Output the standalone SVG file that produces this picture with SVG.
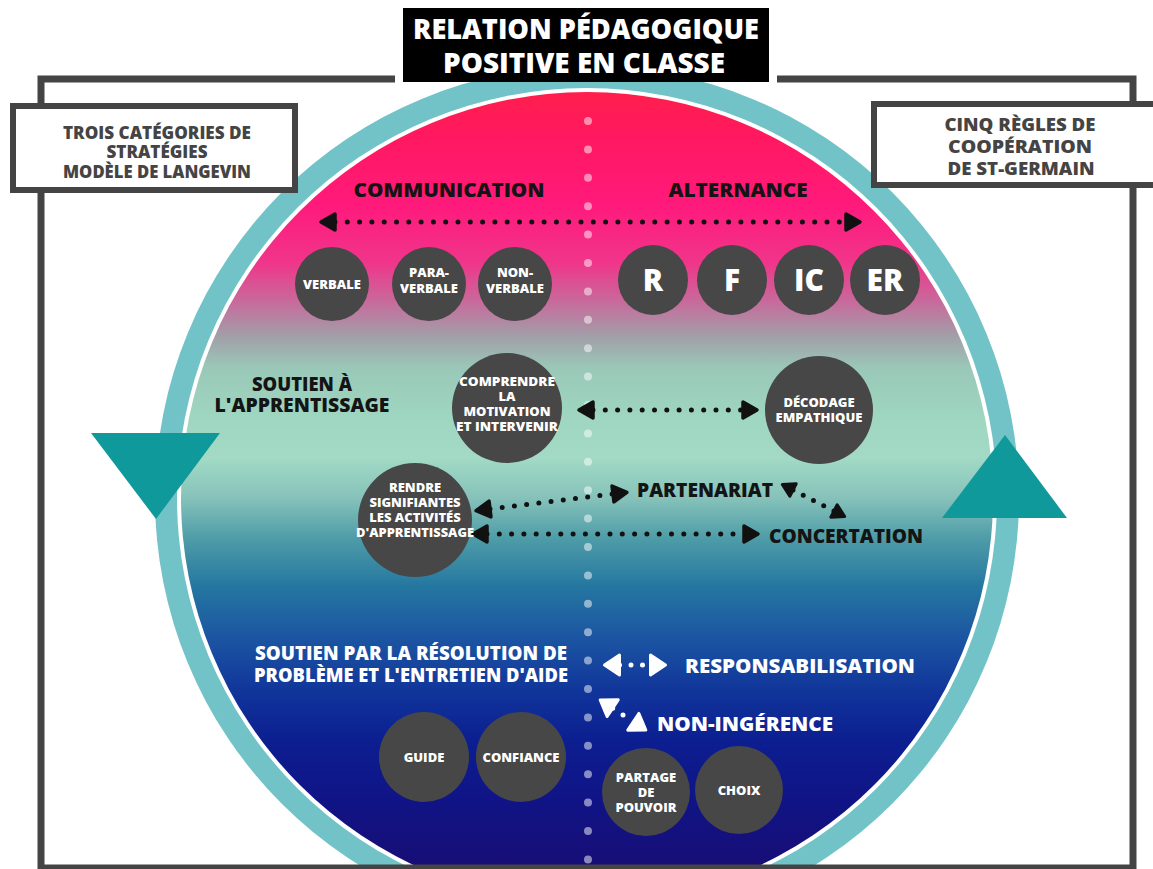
<svg xmlns="http://www.w3.org/2000/svg" width="1153" height="869" viewBox="0 0 1153 869">
  <defs>
    <linearGradient id="disc" gradientUnits="userSpaceOnUse" x1="0" y1="92" x2="0" y2="904">
      <stop offset="0" stop-color="#ff1e4c"/>
      <stop offset="0.06" stop-color="#ff1862"/>
      <stop offset="0.14" stop-color="#ff1a7c"/>
      <stop offset="0.21" stop-color="#f0358a"/>
      <stop offset="0.26" stop-color="#c66c9c"/>
      <stop offset="0.30" stop-color="#a29ea8"/>
      <stop offset="0.34" stop-color="#9ac8b8"/>
      <stop offset="0.40" stop-color="#9ed6c0"/>
      <stop offset="0.45" stop-color="#a2dac6"/>
      <stop offset="0.50" stop-color="#86c2ba"/>
      <stop offset="0.55" stop-color="#4e9ca8"/>
      <stop offset="0.61" stop-color="#2476a0"/>
      <stop offset="0.67" stop-color="#1c56a2"/>
      <stop offset="0.74" stop-color="#10349a"/>
      <stop offset="0.80" stop-color="#0c1e90"/>
      <stop offset="0.87" stop-color="#101486"/>
      <stop offset="1" stop-color="#1c0a6e"/>
    </linearGradient>
    <marker id="ah" markerUnits="userSpaceOnUse" orient="auto-start-reverse" overflow="visible" markerWidth="1" markerHeight="1" refX="0" refY="0">
      <path d="M0,-8 L14,0 L0,8 Z" fill="#111" stroke="#111" stroke-width="3.5" stroke-linejoin="round"/>
    </marker>
    <marker id="ahs" markerUnits="userSpaceOnUse" orient="auto-start-reverse" overflow="visible" markerWidth="1" markerHeight="1" refX="0" refY="0">
      <path d="M0,-7 L12,0 L0,7 Z" fill="#111" stroke="#111" stroke-width="3" stroke-linejoin="round"/>
    </marker>
    <marker id="aw" markerUnits="userSpaceOnUse" orient="auto-start-reverse" overflow="visible" markerWidth="1" markerHeight="1" refX="0" refY="0">
      <path d="M0,-10 L15,0 L0,10 Z" fill="#fff" stroke="#fff" stroke-width="3" stroke-linejoin="round"/>
    </marker>
  </defs>
  <style>
    text { font-family: "Open Sans", "Liberation Sans", sans-serif; font-weight: 800; }
    .node circle { fill: #474747; }
    .nt { fill: #fff; font-size: 13px; text-anchor: middle; }
    .big { font-size: 30px; }
    .lbl { fill: #141414; font-size: 20px; }
    .wl { fill: #fff; font-size: 20px; }
    .box rect { fill: #fff; stroke: #444; stroke-width: 6; }
    .bt { fill: #444; font-size: 18px; text-anchor: middle; }
    .dk { fill: none; stroke: #111; stroke-width: 5; stroke-linecap: round; }
    .wt { fill: none; stroke: #fff; stroke-width: 5; stroke-linecap: round; }
  </style>

  <rect width="1153" height="869" fill="#fff"/>

  <!-- disc: teal ring, white gap, gradient core -->
  <g id="disc-shape">
    <circle cx="587" cy="498" r="432" fill="#72c3c8"/>
    <circle cx="587" cy="498" r="410" fill="#fff"/>
    <circle cx="587" cy="498" r="406" fill="url(#disc)"/>
    <line x1="588" y1="121" x2="588" y2="862" stroke="#fff" stroke-opacity="0.5" stroke-width="8" stroke-linecap="round" stroke-dasharray="0 28.4"/>
  </g>

  <!-- outer frame -->
  <path id="frame" d="M395,79 H41 V868 H1133 V79 H777" fill="none" stroke="#444" stroke-width="7"/>

  <!-- rotation triangles on the ring -->
  <polygon id="tri-left" points="91,433 220,433 156,519" fill="#0f999b"/>
  <polygon id="tri-right" points="942,518 1067,518 1005,435" fill="#0f999b"/>

  <!-- side captions -->
  <g id="box-left" class="box">
    <rect x="13" y="106" width="282" height="84"/>
    <text class="bt" x="157" y="139" textLength="188" lengthAdjust="spacingAndGlyphs">TROIS CATÉGORIES DE</text>
    <text class="bt" x="157" y="158" textLength="101" lengthAdjust="spacingAndGlyphs">STRATÉGIES</text>
    <text class="bt" x="157" y="178" textLength="188" lengthAdjust="spacingAndGlyphs">MODÈLE DE LANGEVIN</text>
  </g>
  <g id="box-right" class="box">
    <rect x="874" y="104" width="290" height="81"/>
    <text class="bt" x="1020" y="131" textLength="151" lengthAdjust="spacingAndGlyphs">CINQ RÈGLES DE</text>
    <text class="bt" x="1020" y="153" textLength="144" lengthAdjust="spacingAndGlyphs">COOPÉRATION</text>
    <text class="bt" x="1021" y="175" textLength="147" lengthAdjust="spacingAndGlyphs">DE ST-GERMAIN</text>
  </g>

  <!-- title -->
  <g id="title">
    <rect x="403" y="8" width="366" height="74" fill="#000"/>
    <text x="586" y="39" fill="#fff" font-size="29" text-anchor="middle" textLength="346" lengthAdjust="spacingAndGlyphs">RELATION PÉDAGOGIQUE</text>
    <text x="584" y="73" fill="#fff" font-size="29" text-anchor="middle" textLength="282" lengthAdjust="spacingAndGlyphs">POSITIVE EN CLASSE</text>
  </g>

  <!-- connectors -->
  <g id="connectors">
    <line class="dk" x1="335" y1="222" x2="846" y2="222" stroke-dasharray="0 12.3" marker-start="url(#ah)" marker-end="url(#ah)"/>
    <line class="dk" x1="593" y1="410" x2="743" y2="410" stroke-dasharray="0 12.3" marker-start="url(#ah)" marker-end="url(#ah)"/>
    <line class="dk" x1="490" y1="509" x2="613" y2="494" stroke-dasharray="0 12.3" marker-start="url(#ah)" marker-end="url(#ah)"/>
    <line class="dk" x1="487" y1="534" x2="744" y2="534" stroke-dasharray="0 12.3" marker-start="url(#ah)" marker-end="url(#ah)"/>
    <line class="dk" x1="793" y1="490" x2="834" y2="511" stroke-dasharray="0 11.5" marker-start="url(#ahs)" marker-end="url(#ahs)"/>
    <line class="wt" x1="619.5" y1="665" x2="650.5" y2="665" stroke-dasharray="0 11.5" marker-start="url(#aw)" marker-end="url(#aw)"/>
    <line class="wt" x1="612.7" y1="708.2" x2="633.3" y2="721.8" stroke-dasharray="0 12.35" marker-start="url(#aw)" marker-end="url(#aw)"/>
  </g>

  <!-- section labels -->
  <g id="labels">
    <text class="lbl" x="449" y="197" text-anchor="middle" textLength="191" lengthAdjust="spacingAndGlyphs">COMMUNICATION</text>
    <text class="lbl" x="738" y="197" text-anchor="middle" textLength="139" lengthAdjust="spacingAndGlyphs">ALTERNANCE</text>
    <text class="lbl" x="302" y="391" text-anchor="middle" textLength="100" lengthAdjust="spacingAndGlyphs">SOUTIEN À</text>
    <text class="lbl" x="302" y="412" text-anchor="middle" textLength="175" lengthAdjust="spacingAndGlyphs">L'APPRENTISSAGE</text>
    <text class="lbl" x="637" y="497" textLength="136" lengthAdjust="spacingAndGlyphs">PARTENARIAT</text>
    <text class="lbl" x="769" y="543" textLength="154" lengthAdjust="spacingAndGlyphs">CONCERTATION</text>
    <text class="wl" x="411" y="660" text-anchor="middle" font-size="19" textLength="312" lengthAdjust="spacingAndGlyphs">SOUTIEN PAR LA RÉSOLUTION DE</text>
    <text class="wl" x="411" y="682" text-anchor="middle" font-size="19" textLength="314" lengthAdjust="spacingAndGlyphs">PROBLÈME ET L'ENTRETIEN D'AIDE</text>
    <text class="wl" x="685" y="673" font-size="21" textLength="230" lengthAdjust="spacingAndGlyphs">RESPONSABILISATION</text>
    <text class="wl" x="657" y="731" font-size="21" textLength="176" lengthAdjust="spacingAndGlyphs">NON-INGÉRENCE</text>
  </g>

  <!-- communication nodes -->
  <g id="n-verbale" class="node">
    <circle cx="332" cy="284" r="37"/>
    <text class="nt" x="332" y="289">VERBALE</text>
  </g>
  <g id="n-paraverbale" class="node">
    <circle cx="429" cy="284" r="37"/>
    <text class="nt" x="429" y="277">PARA-</text>
    <text class="nt" x="429" y="293">VERBALE</text>
  </g>
  <g id="n-nonverbale" class="node">
    <circle cx="515" cy="284" r="37"/>
    <text class="nt" x="515" y="277">NON-</text>
    <text class="nt" x="515" y="293">VERBALE</text>
  </g>

  <!-- alternance nodes -->
  <g id="n-r" class="node">
    <circle cx="653" cy="280" r="35"/>
    <text class="nt big" x="653" y="291">R</text>
  </g>
  <g id="n-f" class="node">
    <circle cx="732" cy="280" r="35"/>
    <text class="nt big" x="732" y="291">F</text>
  </g>
  <g id="n-ic" class="node">
    <circle cx="809" cy="280" r="35"/>
    <text class="nt big" x="809" y="291">IC</text>
  </g>
  <g id="n-er" class="node">
    <circle cx="885" cy="280" r="35"/>
    <text class="nt big" x="885" y="291">ER</text>
  </g>

  <!-- learning support nodes -->
  <g id="n-comprendre" class="node">
    <circle cx="507" cy="408" r="55"/>
    <text class="nt" x="507" y="386" textLength="96" lengthAdjust="spacingAndGlyphs">COMPRENDRE</text>
    <text class="nt" x="507" y="401">LA</text>
    <text class="nt" x="507" y="416">MOTIVATION</text>
    <text class="nt" x="507" y="431" textLength="102" lengthAdjust="spacingAndGlyphs">ET INTERVENIR</text>
  </g>
  <g id="n-decodage" class="node">
    <circle cx="819" cy="410" r="54"/>
    <text class="nt" x="819" y="407">DÉCODAGE</text>
    <text class="nt" x="819" y="422">EMPATHIQUE</text>
  </g>
  <g id="n-rendre" class="node">
    <circle cx="415" cy="520" r="57"/>
    <text class="nt" x="415" y="492">RENDRE</text>
    <text class="nt" x="415" y="507">SIGNIFIANTES</text>
    <text class="nt" x="415" y="522">LES ACTIVITÉS</text>
    <text class="nt" x="415" y="537" textLength="118" lengthAdjust="spacingAndGlyphs">D'APPRENTISSAGE</text>
  </g>

  <!-- problem-solving nodes -->
  <g id="n-guide" class="node">
    <circle cx="424" cy="757" r="45"/>
    <text class="nt" x="424" y="762">GUIDE</text>
  </g>
  <g id="n-confiance" class="node">
    <circle cx="521" cy="757" r="45"/>
    <text class="nt" x="521" y="762">CONFIANCE</text>
  </g>
  <g id="n-partage" class="node">
    <circle cx="646" cy="792" r="44"/>
    <text class="nt" x="646" y="782">PARTAGE</text>
    <text class="nt" x="646" y="797">DE</text>
    <text class="nt" x="646" y="812">POUVOIR</text>
  </g>
  <g id="n-choix" class="node">
    <circle cx="739" cy="790" r="44"/>
    <text class="nt" x="739" y="795">CHOIX</text>
  </g>
</svg>
